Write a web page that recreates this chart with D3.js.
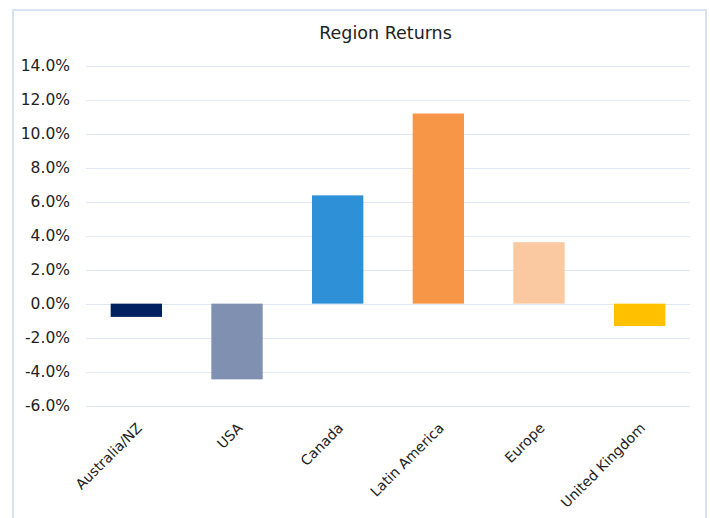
<!DOCTYPE html>
<html>
<head>
<meta charset="utf-8">
<script src="https://cdn.jsdelivr.net/npm/d3@7"></script>
<style>
  body { margin: 0; background: #fff; }
  svg text { font-family: "DejaVu Sans", Verdana, sans-serif; fill: #222; }
</style>
</head>
<body>
<div id="chart"></div>
<script>
var regions = ["Australia/NZ", "USA", "Canada", "Latin America", "Europe", "United Kingdom"];
var returns = [-0.78, -4.46, 6.38, 11.2, 3.62, -1.32];
var barColors = ["#002060", "#8090b0", "#2e91d8", "#f79646", "#fac9a2", "#ffc000"];
var yTicks = [-6, -4, -2, 0, 2, 4, 6, 8, 10, 12, 14];

var width = 710, height = 518;
var margin = { top: 66, right: 20, bottom: 113, left: 86 };
var innerW = 690 - margin.left, innerH = 405.5 - margin.top;

var svg = d3.select("#chart").append("svg")
  .attr("width", width)
  .attr("height", height);

// chart frame
svg.append("rect")
  .attr("x", 13).attr("y", 10)
  .attr("width", 693).attr("height", 520)
  .attr("fill", "none")
  .attr("stroke", "#d6e2f1")
  .attr("stroke-width", 2);

svg.append("text")
  .attr("x", 385.5).attr("y", 39)
  .attr("text-anchor", "middle")
  .style("font-size", "17.5px")
  .text("Region Returns");

var g = svg.append("g").attr("transform", "translate(" + margin.left + "," + margin.top + ")");

var x = d3.scaleBand().domain(regions).range([0, innerW]).paddingInner(0.49).paddingOuter(0.245);
var y = d3.scaleLinear().domain([-6, 14]).range([innerH, 0]);

// gridlines
g.selectAll(".grid").data(yTicks).enter().append("line")
  .attr("x1", 0).attr("x2", innerW)
  .attr("y1", function (d) { return Math.round(y(d)) + 0.5; })
  .attr("y2", function (d) { return Math.round(y(d)) + 0.5; })
  .attr("stroke", "#dfe8f3")
  .attr("stroke-width", 1.2);

var yAxis = d3.axisLeft(y).tickValues(yTicks).tickSize(0).tickPadding(16)
  .tickFormat(function (d) { return d.toFixed(1) + "%"; });
g.append("g").call(yAxis)
  .call(function (a) { a.select(".domain").remove(); })
  .selectAll("text")
  .style("font-size", "15.5px")
  .attr("fill", "#222");

g.selectAll(".bar").data(regions).enter().append("rect")
  .attr("x", function (d) { return x(d); })
  .attr("width", x.bandwidth())
  .attr("y", function (d, i) { return y(Math.max(0, returns[i])); })
  .attr("height", function (d, i) { return Math.abs(y(returns[i]) - y(0)); })
  .attr("fill", function (d, i) { return barColors[i]; });

var xAxis = d3.axisBottom(x).tickSize(0).tickPadding(0);
var xa = g.append("g").attr("transform", "translate(0," + innerH + ")").call(xAxis);
xa.select(".domain").remove();
xa.selectAll("text")
  .style("font-size", "14px")
  .attr("fill", "#222")
  .attr("text-anchor", "end")
  .attr("dy", "0.35em")
  .attr("transform", "translate(3,20) rotate(-45)");
</script>
</body>
</html>
